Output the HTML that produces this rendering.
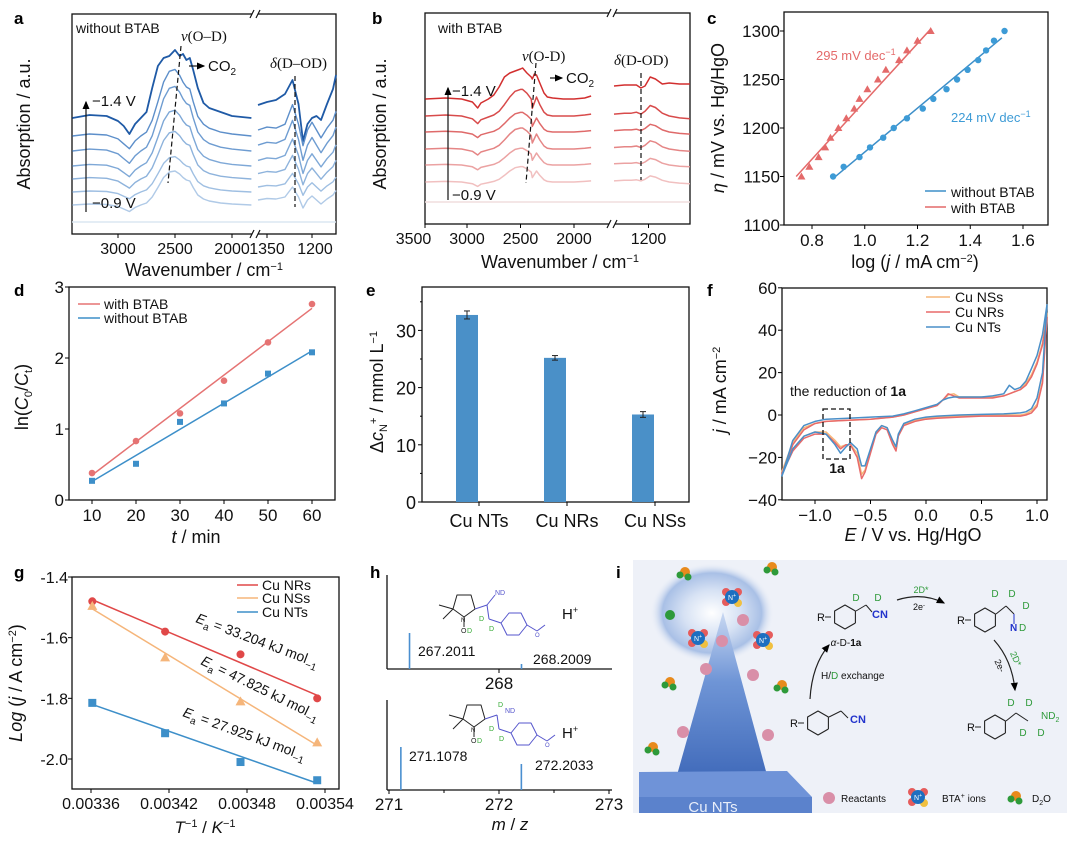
<!DOCTYPE html>
<html><head><meta charset="utf-8"><style>
html,body{margin:0;padding:0;background:#fff;}
svg{display:block;font-family:"Liberation Sans",sans-serif;}
</style></head><body>
<svg id="fig" width="1080" height="845" viewBox="0 0 1080 845" xmlns="http://www.w3.org/2000/svg">
<defs>
<radialGradient id="glow" cx="0.5" cy="0.5" r="0.5"><stop offset="0" stop-color="#ffffff"/><stop offset="0.45" stop-color="#d7e2f4"/><stop offset="0.8" stop-color="#a9c0e6"/><stop offset="1" stop-color="#eef1f8" stop-opacity="0"/></radialGradient>
<linearGradient id="cone" x1="0" y1="0" x2="0" y2="1"><stop offset="0" stop-color="#c9d8f2"/><stop offset="0.4" stop-color="#6f95d6"/><stop offset="1" stop-color="#3d67b8"/></linearGradient>
<marker id="ah" markerWidth="8" markerHeight="8" refX="6" refY="3" orient="auto"><path d="M0,0 L7,3 L0,6 z" fill="#000"/></marker>
</defs>
</svg>
<script>
// ---------- DATA ----------
const aWnL=[3400,3250,3100,3000,2950,2900,2850,2800,2750,2700,2650,2600,2550,2500,2460,2430,2400,2370,2340,2300,2250,2200,2150,2100,2000,1830];
const aTopL=[0,3,2,-3,-8,-16,-6,0,6,30,52,60,62,68,62,64,58,60,48,30,15,10,8,6,2,0];
const aLowL=[0,2,1,-3,-8,-13,-5,0,4,16,35,55,66,68,62,55,50,48,35,20,12,8,6,4,2,0];
const aWnR=[1380,1350,1320,1290,1265,1245,1230,1215,1200,1185,1170,1150,1130,1120];
const aTopR=[9,12,14,20,34,10,-27,-10,-4,-2,-6,10,25,39];
const aLowR=[2,5,4,8,28,8,-14,2,10,2,-6,4,12,21];
const aBase=[116,98,83,68,55,42,29];
const aAmp=[1.0,0.98,0.95,0.82,0.7,0.52,0.5];
const aColors=["#1f5aa6","#5d8fca","#6e9cd1","#7ea8d7","#8eb3dc","#9fbfe2","#b0cae7"];
const bWnL=[3390,3200,3050,2950,2900,2870,2800,2750,2700,2650,2600,2550,2500,2480,2440,2400,2390,2370,2350,2320,2280,2250,2200,2100,2000,1900,1840];
const bTopL=[0,1,0,-3,-9,-4,0,4,12,22,26,28,30,31,26,22,20,25,24,16,6,2,1,0,0,1,3];
const bLowL=[0,1,0,-3,-8,-4,-1,1,5,12,20,26,28,28,24,18,8,14,20,12,4,1,0,0,0,1,2];
const bWnR=[1300,1270,1250,1235,1222,1210,1195,1180,1160,1140,1110,1080];
const bTopR=[13,14,14,14,11,13,22,20,15,16,15,15];
const bLowR=[2,3,3,4,2,5,11,9,3,0,-2,-3];
const bBase=[125,108,92,75,59,42];
const bAmp=[1.0,0.95,0.7,0.75,0.6,0.55];
const bColors=["#d22f2f","#d84b4b","#df6a6a","#e58585","#eba2a2","#f1c0c0"];
const cRedX=[0.76,0.79,0.825,0.85,0.87,0.9,0.93,0.96,0.98,1.01,1.05,1.08,1.13,1.16,1.2,1.25];
const cRedY=[1150,1160,1170,1180,1190,1200,1210,1220,1230,1240,1250,1260,1270,1280,1290,1300];
const cBlueX=[0.88,0.92,0.98,1.02,1.07,1.11,1.16,1.22,1.26,1.31,1.35,1.39,1.43,1.46,1.49,1.53];
const cBlueY=[1150,1160,1170,1180,1190,1200,1210,1220,1230,1240,1250,1260,1270,1280,1290,1300];
const cRedFit=[[0.74,1150],[1.25,1302]];
const cBlueFit=[[0.88,1148],[1.52,1293]];
const cXTicks=[0.8,1.0,1.2,1.4,1.6];
const cYTicks=[1100,1150,1200,1250,1300];
const dT=[10,20,30,40,50,60];
const dWith=[0.38,0.83,1.22,1.68,2.22,2.76];
const dWithout=[0.27,0.51,1.1,1.36,1.78,2.08];
const dWithFit=[0.35,2.7];
const dWithoutFit=[0.26,2.1];
const dYTicks=[0,1,2,3];
const eCats=["Cu NTs","Cu NRs","Cu NSs"];
const eVals=[32.7,25.2,15.3];
const eErr=[0.7,0.4,0.5];
const eYTicks=[0,10,20,30];
const fEup=[-1.3,-1.2,-1.1,-1.0,-0.9,-0.7,-0.5,-0.3,-0.2,-0.1,0.0,0.1,0.15,0.2,0.25,0.3,0.4,0.5,0.6,0.7,0.75,0.8,0.85,0.9,0.95,1.0,1.05,1.09];
const fNTsUp=[-29,-12,-5,-3,-2,-1.5,-1,-0.5,0.5,2,3.5,5,7,8,8.5,8.5,8.5,8.5,9,10,14,12,13,16,22,28,38,52];
const fNRsUp=[-28,-14,-7,-4,-3,-2.5,-2,-1,0,1.5,3,4.5,7,10,9,8,8,8,8,9,10,11,12,14,18,24,33,46];
const fNSsUp=[-27,-13,-6,-4,-3,-2.5,-2,-1,0,1.5,3,4.5,7,9.5,10,8.5,8.5,8.5,8.5,9,10,11,12,15,19,25,34,48];
const fEdn=[1.09,1.05,1.0,0.95,0.9,0.85,0.7,0.5,0.3,0.1,0.0,-0.1,-0.2,-0.25,-0.27,-0.3,-0.35,-0.4,-0.45,-0.5,-0.55,-0.58,-0.62,-0.68,-0.72,-0.77,-0.82,-0.9,-1.0,-1.1,-1.2,-1.3];
const fNTsDn=[52,20,8,3,1.5,1,0.5,0.3,0,-0.5,-1,-2,-4,-9,-15,-12,-6,-5,-8,-16,-24,-24,-16,-13,-15,-18,-14,-9,-8,-10,-16,-29];
const fNRsDn=[46,15,4,1,0,-0.5,-0.5,-0.5,-1,-1.5,-2,-3,-5,-10,-17,-14,-7,-6,-9,-18,-27,-30,-20,-14,-14,-16,-13,-9,-9,-11,-17,-28];
const fNSsDn=[48,16,5,2,0.5,0,0,0,-0.5,-1,-1.5,-2.5,-4.5,-10,-16,-13,-6,-5,-8,-17,-26,-28,-18,-14,-14,-15,-12,-8,-8,-10,-16,-27];
const fXTicks=[-1.0,-0.5,0.0,0.5,1.0];
const fYTicks=[-40,-20,0,20,40,60];
const gX=[0.003361,0.003417,0.003475,0.003534];
const gNRs=[-1.48,-1.58,-1.655,-1.80];
const gNSs=[-1.495,-1.665,-1.81,-1.945];
const gNTs=[-1.815,-1.915,-2.01,-2.07];
const gNRsFit=[-1.475,-1.79];
const gNSsFit=[-1.505,-1.955];
const gNTsFit=[-1.82,-2.08];
const gXTicks=[0.00336,0.00342,0.00348,0.00354];
const gYTicks=[-1.4,-1.6,-1.8,-2.0];
const hTopMz=[267.2011,268.2009];
const hTopInt=[36,5];
const hBotMz=[271.1078,272.2033];
const hBotInt=[43,26];

// ---------- HELPERS ----------
const NS="http://www.w3.org/2000/svg";
const svg=document.getElementById('fig');
function mk(tag,attrs,parent){const e=document.createElementNS(NS,tag);for(const k in attrs)e.setAttribute(k,attrs[k]);(parent||svg).appendChild(e);return e;}
function grp(name){const g=mk('g',{});


return g;}
function line(p,x1,y1,x2,y2,c,w,dash){return mk('line',{x1:x1,y1:y1,x2:x2,y2:y2,stroke:c||'#000','stroke-width':w||1,'stroke-dasharray':dash||'none'},p);}
function txt(p,x,y,s,size,anchor,fill,extra){const t=mk('text',Object.assign({x:x,y:y,'font-size':size||14,'text-anchor':anchor||'start',fill:fill||'#111'},extra||{}),p);t.innerHTML=s;return t;}
function poly(p,pts,c,w){return mk('polyline',{points:pts.map(q=>q[0].toFixed(1)+','+q[1].toFixed(1)).join(' '),fill:'none',stroke:c,'stroke-width':w||1.3,'stroke-linejoin':'round'},p);}
function box(p,x1,y1,x2,y2){mk('rect',{x:x1,y:y1,width:x2-x1,height:y2-y1,fill:'none',stroke:'#111','stroke-width':1.3},p);}

[['a',14,24],['b',372,24],['c',707,24],['d',14,296],['e',366,296],['f',707,296],['g',14,578],['h',370,578],['i',616,578]].forEach(l=>{
 const t=txt(svg,l[1],l[2],l[0],17,'start','#000',{'font-weight':'bold'});
 
 
});

// ---------- PANEL A ----------
(function(){
 const g=grp('panel-a-without-btab');
 const L=72,R=336,T=14,B=234,BR=255;
 const xl=w=>118+(3000-w)*0.114, xr=w=>267+(1350-w)*0.3, y=v=>B-v;
 box(g,L,T,R,B);
 mk('rect',{x:BR-3,y:T-3,width:6,height:6,fill:'#fff'},g);mk('rect',{x:BR-3,y:B-3,width:6,height:6,fill:'#fff'},g);
 [[T],[B]].forEach(q=>{line(g,BR-5,q[0]+4,BR-1,q[0]-4,'#111',1.2);line(g,BR+1,q[0]+4,BR+5,q[0]-4,'#111',1.2);});
 mk('line',{x1:L,y1:222,x2:R,y2:222,stroke:'#dbe7f2','stroke-width':1.5},g);
 aBase.forEach((b,i)=>{
  const tl=i===0?aTopL:aLowL, tr=i===0?aTopR:aLowR, amp=i===0?1:aAmp[i];
  const ptsL=aWnL.map((w,k)=>[xl(w),y(b+tl[k]*amp)]);
  const ptsR=aWnR.map((w,k)=>[xr(w),y(b+4+tr[k]*amp)]);
  const p1=poly(g,ptsL,aColors[i],i===0?1.8:1.4);
  
  
  const p2=poly(g,ptsR,aColors[i],i===0?1.8:1.4);
  
  
 });
 [3000,2500,2000].forEach(w=>{line(g,xl(w),B,xl(w),B+4);txt(g,xl(w),B+20,w,16,'middle');});
 [1350,1200].forEach(w=>{line(g,xr(w),B,xr(w),B+4);});
 txt(g,xr(1350),B+20,'1350',16,'middle');txt(g,xr(1200)+3,B+20,'1200',16,'middle');
 txt(g,204,B+42,'Wavenumber / cm<tspan dy="-6" font-size="11">−1</tspan>',18,'middle');
 txt(g,0,0,'Absorption / a.u.',18,'middle','#111',{transform:'translate(30,124) rotate(-90)'});
 txt(g,76,33,'without  BTAB',14);
 txt(g,181,41,'<tspan font-style="italic" font-family="Liberation Serif">ν</tspan><tspan font-family="Liberation Serif">(O–D)</tspan>',15);
 line(g,181,46,168,183,'#111',1.2,'5,3');
 line(g,189,66,204,66,'#111',1.2).setAttribute('marker-end','url(#ah)');
 txt(g,208,71,'CO<tspan dy="4" font-size="10">2</tspan>',15);
 txt(g,270,68,'<tspan font-style="italic">δ</tspan>(D–OD)',15,'start','#111',{'font-family':'Liberation Serif'});
 line(g,295,76,295,207,'#111',1.2,'5,3');
 line(g,86,212,86,102,'#111',1.2).setAttribute('marker-end','url(#ah)');
 txt(g,92,106,'−1.4 V',15);txt(g,92,208,'−0.9 V',15);
})();

// ---------- PANEL B ----------
(function(){
 const g=grp('panel-b-with-btab');
 const L=425,R=690,T=13,B=224,BR=612;
 const xl=w=>467+(3000-w)*0.107, xr=w=>614+(1300-w)*0.345, y=v=>B-v;
 box(g,L,T,R,B);
 mk('rect',{x:BR-3,y:T-3,width:6,height:6,fill:'#fff'},g);mk('rect',{x:BR-3,y:B-3,width:6,height:6,fill:'#fff'},g);
 [[T],[B]].forEach(q=>{line(g,BR-5,q[0]+4,BR-1,q[0]-4,'#111',1.2);line(g,BR+1,q[0]+4,BR+5,q[0]-4,'#111',1.2);});
 mk('line',{x1:L,y1:202,x2:R,y2:202,stroke:'#f0dede','stroke-width':1.5},g);
 bBase.forEach((b,i)=>{
  const tl=i===0?bTopL:bLowL, tr=i===0?bTopR:bLowR, amp=i===0?1:bAmp[i];
  const p1=poly(g,bWnL.map((w,k)=>[xl(w),y(b+tl[k]*amp)]),bColors[i],1.5);
  
  
  const p2=poly(g,bWnR.map((w,k)=>[xr(w),y(b+tr[k]*amp)]),bColors[i],1.5);
  
  
 });
 [3500,3000,2500,2000].forEach(w=>{line(g,Math.max(L,xl(w)),B,Math.max(L,xl(w)),B+4);txt(g,xl(w),B+20,w,16,'middle');});
 line(g,xr(1200),B,xr(1200),B+4);txt(g,xr(1200),B+20,'1200',16,'middle');
 txt(g,560,B+44,'Wavenumber / cm<tspan dy="-6" font-size="11">−1</tspan>',18,'middle');
 txt(g,0,0,'Absorption / a.u.',18,'middle','#111',{transform:'translate(386,124) rotate(-90)'});
 txt(g,438,33,'with BTAB',14);
 txt(g,522,61,'<tspan font-style="italic">ν</tspan>(O-D)',15,'start','#111',{'font-family':'Liberation Serif'});
 line(g,536,63,526,183,'#111',1.2,'5,3');
 line(g,550,78,562,78,'#111',1.2).setAttribute('marker-end','url(#ah)');
 txt(g,566,83,'CO<tspan dy="4" font-size="10">2</tspan>',15);
 txt(g,614,65,'<tspan font-style="italic">δ</tspan>(D-OD)',15,'start','#111',{'font-family':'Liberation Serif'});
 line(g,641,73,641,180,'#111',1.2,'5,3');
 line(g,448,200,448,88,'#111',1.2).setAttribute('marker-end','url(#ah)');
 txt(g,452,96,'−1.4 V',15);txt(g,452,200,'−0.9 V',15);
})();

// ---------- PANEL C ----------
(function(){
 const g=grp('panel-c-tafel');
 const L=784,R=1048,T=12,B=225;
 const x=v=>812+(v-0.8)*263.75, y=v=>B-(v-1100)*0.97;
 box(g,L,T,R,B);
 cXTicks.forEach(v=>{line(g,x(v),B,x(v),B+4);txt(g,x(v),B+21,v.toFixed(1),17,'middle');});
 cYTicks.forEach(v=>{line(g,L,y(v),L-4,y(v));txt(g,L-4,y(v)+6,v,17,'end');});
 const fr=line(g,x(cRedFit[0][0]),y(cRedFit[0][1]),x(cRedFit[1][0]),y(cRedFit[1][1]),'#e46a6a',1.5);
 
 
 const fb=line(g,x(cBlueFit[0][0]),y(cBlueFit[0][1]),x(cBlueFit[1][0]),y(cBlueFit[1][1]),'#3d8fc9',1.5);
 
 
 cRedX.forEach((v,i)=>{const px=x(v),py=y(cRedY[i]);const m=mk('polygon',{points:`${px},${py-4} ${px-4},${py+3} ${px+4},${py+3}`,fill:'#e46a6a'},g);
  
  });
 cBlueX.forEach((v,i)=>{const m=mk('circle',{cx:x(v),cy:y(cBlueY[i]),r:3.2,fill:'#3d9bd6'},g);
  
  });
 txt(g,816,60,'295 mV dec<tspan dy="-5" font-size="9">−1</tspan>',13,'start','#e46a6a');
 txt(g,951,122,'224 mV dec<tspan dy="-5" font-size="9">−1</tspan>',13,'start','#3d9bd6');
 line(g,925,191,946,191,'#3d8fc9',1.5);txt(g,951,197,'without BTAB',14);
 line(g,925,207,946,207,'#e46a6a',1.5);txt(g,951,213,'with BTAB',14);
 txt(g,915,268,'log (<tspan font-style="italic">j</tspan> / mA cm<tspan dy="-6" font-size="11">−2</tspan><tspan dy="6">)</tspan>',18,'middle');
 txt(g,0,0,'<tspan font-style="italic">η</tspan> / mV vs. Hg/HgO',18,'middle','#111',{transform:'translate(724,118) rotate(-90)'});
})();

// ---------- PANEL D ----------
(function(){
 const g=grp('panel-d-kinetics');
 const L=69,R=335,T=287,B=500;
 const x=v=>92+(v-10)*4.4, y=v=>B-v*71;
 box(g,L,T,R,B);
 dT.forEach(v=>{line(g,x(v),B,x(v),B+4);txt(g,x(v),B+21,v,17,'middle');});
 dYTicks.forEach(v=>{line(g,L,y(v),L-4,y(v));txt(g,L-5,y(v)+6,v,17,'end');});
 line(g,x(10),y(dWithFit[0]),x(60),y(dWithFit[1]),'#e57373',1.5);
 line(g,x(10),y(dWithoutFit[0]),x(60),y(dWithoutFit[1]),'#3d8fc9',1.5);
 dT.forEach((t,i)=>{
  const c=mk('circle',{cx:x(t),cy:y(dWith[i]),r:3.3,fill:'#e57373'},g);
  
  
  const s=mk('rect',{x:x(t)-3,y:y(dWithout[i])-3,width:6,height:6,fill:'#3d8fc9'},g);
  
  
 });
 line(g,78,304,100,304,'#e57373',1.5);txt(g,104,309,'with BTAB',14);
 line(g,78,318,100,318,'#3d8fc9',1.5);txt(g,104,323,'without BTAB',14);
 txt(g,196,543,'<tspan font-style="italic">t</tspan> / min',18,'middle');
 txt(g,0,0,'ln(<tspan font-style="italic">C</tspan><tspan dy="4" font-size="11">0</tspan><tspan dy="-4">/</tspan><tspan font-style="italic">C</tspan><tspan dy="4" font-size="11">t</tspan><tspan dy="-4">)</tspan>',18,'middle','#111',{transform:'translate(28,397) rotate(-90)'});
})();

// ---------- PANEL E ----------
(function(){
 const g=grp('panel-e-bars');
 const L=422,R=689,T=287,B=502;
 const xs=[467,555,643], y=v=>B-v*5.72;
 box(g,L,T,R,B);
 eYTicks.forEach(v=>{line(g,L,y(v),L-4,y(v));txt(g,L-6,y(v)+7,v,18,'end');});
 [5,15,25,35].forEach(v=>line(g,L,y(v),L-2,y(v)));
 eCats.forEach((c,i)=>{
  const b=mk('rect',{x:xs[i]-11,y:y(eVals[i]),width:22,height:B-y(eVals[i]),fill:'#4a90c8'},g);
  
  
  line(g,xs[i],y(eVals[i]+eErr[i]),xs[i],y(eVals[i]-eErr[i]),'#222',1);
  line(g,xs[i]-3,y(eVals[i]+eErr[i]),xs[i]+3,y(eVals[i]+eErr[i]),'#222',1);
  line(g,xs[i]-3,y(eVals[i]-eErr[i]),xs[i]+3,y(eVals[i]-eErr[i]),'#222',1);
  line(g,xs[i]+12,B,xs[i]+12,B+4);
  txt(g,xs[i]+12,B+25,c,18,'middle');
 });
 txt(g,0,0,'Δ<tspan font-style="italic">c</tspan><tspan dy="4" font-size="11">N</tspan><tspan dy="-10" font-size="11">+</tspan><tspan dy="6"> / mmol L</tspan><tspan dy="-6" font-size="11">−1</tspan>',18,'middle','#111',{transform:'translate(383,392) rotate(-90)'});
})();

// ---------- PANEL F ----------
(function(){
 const g=grp('panel-f-cv');
 const L=782,R=1047,T=288,B=500;
 const x=v=>815+(v+1)*111, y=v=>415-v*2.12;
 box(g,L,T,R,B);
 fXTicks.forEach(v=>{line(g,x(v),B,x(v),B+4);txt(g,x(v),B+21,(v<0?'−':'')+Math.abs(v).toFixed(1),17,'middle');});
 fYTicks.forEach(v=>{line(g,L,y(v),L-4,y(v));txt(g,L-5,y(v)+6,(v<0?'−':'')+Math.abs(v),17,'end');});
 const series=[[fNSsUp,fNSsDn,'#f6b77a','cv-cu-nss'],[fNRsUp,fNRsDn,'#e86a6a','cv-cu-nrs'],[fNTsUp,fNTsDn,'#4a8fc8','cv-cu-nts']];
 series.forEach(s=>{
  const pts=fEup.map((e,k)=>[x(e),y(s[0][k])]).concat(fEdn.map((e,k)=>[x(e),y(s[1][k])]));
  const p=poly(g,pts,s[2],1.5);
  
  
 });
 mk('rect',{x:823,y:409,width:27,height:50,fill:'none',stroke:'#111','stroke-width':1.3,'stroke-dasharray':'5,3'},g);
 txt(g,790,396,'the reduction of <tspan font-weight="bold">1a</tspan>',14);
 txt(g,837,473,'1a',14,'middle','#111',{'font-weight':'bold'});
 line(g,926,297,950,297,'#f6b77a',1.5);txt(g,955,302,'Cu NSs',14);
 line(g,926,312,950,312,'#e86a6a',1.5);txt(g,955,317,'Cu NRs',14);
 line(g,926,327,950,327,'#4a8fc8',1.5);txt(g,955,332,'Cu NTs',14);
 txt(g,913,541,'<tspan font-style="italic">E</tspan> / V vs. Hg/HgO',18,'middle');
 txt(g,0,0,'<tspan font-style="italic">j</tspan> / mA cm<tspan dy="-6" font-size="11">−2</tspan>',18,'middle','#111',{transform:'translate(726,390) rotate(-90)'});
})();

// ---------- PANEL G ----------
(function(){
 const g=grp('panel-g-arrhenius');
 const L=72,R=339,T=577,B=789;
 const x=v=>91+(v-0.00336)/0.00018*234, y=v=>577+(-1.4-v)/0.6*182;
 box(g,L,T,R,B);
 gXTicks.forEach(v=>{line(g,x(v),B,x(v),B+4);txt(g,x(v),B+20,v.toFixed(5),16,'middle');});
 gYTicks.forEach(v=>{line(g,L,y(v),L-4,y(v));txt(g,L-4,y(v)+6,v.toFixed(1),16,'end');});
 const S=[[gNRs,gNRsFit,'#e04848','c'],[gNSs,gNSsFit,'#f5b57a','t'],[gNTs,gNTsFit,'#3d8fc9','s']];
 S.forEach(s=>{
  line(g,x(gX[0]),y(s[1][0]),x(gX[3]),y(s[1][1]),s[2],1.5);
  gX.forEach((xv,i)=>{
   const px=x(xv),py=y(s[0][i]);let m;
   if(s[3]==='c')m=mk('circle',{cx:px,cy:py,r:4,fill:s[2]},g);
   else if(s[3]==='t')m=mk('polygon',{points:`${px},${py-5} ${px-5},${py+4} ${px+5},${py+4}`,fill:s[2]},g);
   else m=mk('rect',{x:px-4,y:py-4,width:8,height:8,fill:s[2]},g);
   
   
  });
 });
 line(g,237,585,258,585,'#e04848',1.5);txt(g,262,590,'Cu NRs',14);
 line(g,237,598,258,598,'#f5b57a',1.5);txt(g,262,603,'Cu NSs',14);
 line(g,237,612,258,612,'#3d8fc9',1.5);txt(g,262,617,'Cu NTs',14);
 txt(g,0,0,'<tspan font-style="italic">E</tspan><tspan dy="4" font-size="10">a</tspan><tspan dy="-4"> = 33.204 kJ mol</tspan><tspan dy="4" font-size="10">−1</tspan>',14,'start','#111',{transform:'translate(195,622) rotate(20.5)'});
 txt(g,0,0,'<tspan font-style="italic">E</tspan><tspan dy="4" font-size="10">a</tspan><tspan dy="-4"> = 47.825 kJ mol</tspan><tspan dy="4" font-size="10">−1</tspan>',14,'start','#111',{transform:'translate(200,664) rotate(26)'});
 txt(g,0,0,'<tspan font-style="italic">E</tspan><tspan dy="4" font-size="10">a</tspan><tspan dy="-4"> = 27.925 kJ mol</tspan><tspan dy="4" font-size="10">−1</tspan>',14,'start','#111',{transform:'translate(182,716) rotate(20)'});
 txt(g,205,833,'<tspan font-style="italic">T</tspan><tspan dy="-6" font-size="11">−1</tspan><tspan dy="6"> / </tspan><tspan font-style="italic">K</tspan><tspan dy="-6" font-size="11">−1</tspan>',17,'middle');
 txt(g,0,0,'<tspan font-style="italic">Log</tspan> (<tspan font-style="italic">j</tspan> / A cm<tspan dy="-6" font-size="11">−2</tspan><tspan dy="6">)</tspan>',18,'middle','#111',{transform:'translate(22,683) rotate(-90)'});
})();

// ---------- PANEL H ----------
(function(){
 const g=grp('panel-h-mass-spec');
 const L=387,R=612;
 const xt=m=>499+(m-268)*112, xb=m=>389+(m-271)*110;
 const Bt=669,Bb=790;
 line(g,L,575,L,Bt,'#111',1.3);line(g,L,Bt,R,Bt,'#111',1.3);
 line(g,L,700,L,Bb,'#111',1.3);line(g,L,Bb,R,Bb,'#111',1.3);
 line(g,xt(268),Bt,xt(268),Bt+4);txt(g,xt(268),Bt+20,'268',17,'middle');
 [271,272,273].forEach(m=>{line(g,xb(m),Bb,xb(m),Bb+4);txt(g,xb(m),Bb+20,m,17,'middle');});
 [271.5,272.5].forEach(m=>line(g,xb(m),Bb,xb(m),Bb+3));
 hTopMz.forEach((m,i)=>{const p=line(g,xt(m),Bt,xt(m),Bt-hTopInt[i],'#4a8fd0',1.6);
  
  });
 hBotMz.forEach((m,i)=>{const p=line(g,xb(m),Bb,xb(m),Bb-hBotInt[i],'#4a8fd0',1.6);
  
  });
 txt(g,418,656,hTopMz[0].toFixed(4),14);txt(g,533,664,hTopMz[1].toFixed(4),14);
 txt(g,409,761,hBotMz[0].toFixed(4),14);txt(g,535,770,hBotMz[1].toFixed(4),14);
 txt(g,510,830,'<tspan font-style="italic">m</tspan> / <tspan font-style="italic">z</tspan>',17,'middle');
 txt(g,562,619,'H<tspan dy="-6" font-size="9">+</tspan>',15);txt(g,562,738,'H<tspan dy="-6" font-size="9">+</tspan>',15);
 function mol(ox,oy,bottom){
  const m=mk('g',{transform:`translate(${ox},${oy})`},g);
  
  
  poly(m,[[-12,8],[-8,-6],[6,-6],[10,8],[-1,16],[-12,8]],'#222',1);
  line(m,-12,8,-26,4,'#222',1);line(m,-12,8,-22,18,'#222',1);
  line(m,-1,16,-1,26,'#222',1);
  txt(m,-4,21,'N',6,'start','#222');txt(m,-4,32,'O',7,'start','#222');txt(m,2,32,'D',7,'start','#3a3');
  line(m,10,8,22,4,'#55c',1);
  if(!bottom){line(m,22,4,30,-6,'#55c',1);txt(m,30,-6,'ND',7,'start','#55c');}
  else{txt(m,23,-4,'D',7,'start','#3a3');txt(m,30,2,'ND',7,'start','#55c');}
  line(m,22,4,24,18,'#55c',1);txt(m,14,20,'D',7,'start','#3a3');txt(m,24,30,'D',7,'start','#3a3');
  line(m,24,18,36,22,'#55c',1);
  const hx=[[36,22],[44,12],[56,12],[62,24],[54,34],[42,34],[36,22]];
  poly(m,hx,'#55c',1);line(m,62,24,72,30,'#55c',1);line(m,72,30,80,24,'#55c',1);
  txt(m,70,36,'O',6,'start','#55c');
 }
 mol(465,601,false);mol(475,711,true);
})();

// ---------- PANEL I ----------
(function(){
 const g=grp('panel-i-schematic');
 mk('rect',{x:633,y:560,width:434,height:253,fill:'#eef1f8'},g);
 mk('ellipse',{cx:712,cy:613,rx:62,ry:50,fill:'url(#glow)'},g);
 const cone=mk('path',{d:'M723,612 L677,775 A45,10 0 0 0 767,775 Z',fill:'url(#cone)'},g);
 
 
 mk('polygon',{points:'639,772 787,771 812,797 639,797',fill:'#6f93d8'},g);
 const slab=mk('rect',{x:639,y:797,width:173,height:16,fill:'#5b82cc'},g);
 
 
 txt(g,713,812,'Cu NTs',15,'middle','#e8eefa');
 function d2o(x,y){mk('circle',{cx:x,cy:y,r:5,fill:'#e88a1c'},g);mk('circle',{cx:x-5,cy:y+3,r:3.5,fill:'#2e9a3a'},g);mk('circle',{cx:x+3,cy:y+5,r:3.5,fill:'#2e9a3a'},g);}
 function bta(x,y){[[-6,-5],[6,-5],[-6,5]].forEach(o=>mk('circle',{cx:x+o[0],cy:y+o[1],r:4,fill:'#e55c5c'},g));mk('circle',{cx:x+6,cy:y+6,r:4,fill:'#f0c040'},g);mk('circle',{cx:x,cy:y,r:7,fill:'#1d6fc0'},g);txt(g,x,y+3,'N<tspan font-size="5" dy="-3">+</tspan>',7,'middle','#fff');}
 function rea(x,y){mk('circle',{cx:x,cy:y,r:6,fill:'#d98fa8'},g);}
 [[685,572],[772,567],[670,682],[782,685],[653,747]].forEach(p=>d2o(p[0],p[1]));
 mk('circle',{cx:670,cy:615,r:5,fill:'#2e9a3a'},g);
 [[743,620],[722,641],[706,669],[753,675],[683,732],[768,735]].forEach(p=>rea(p[0],p[1]));
 [[732,597],[698,638],[763,640]].forEach(p=>bta(p[0],p[1]));
 function hex(cx,cy,r){const pts=[];for(let k=0;k<=6;k++){const a=Math.PI/6+k*Math.PI/3;pts.push([cx+r*Math.cos(a),cy+r*Math.sin(a)]);}poly(g,pts,'#222',1.1);line(g,cx-r-2,cy,cx-r-8,cy,'#222',1);}
 hex(818,723,12);txt(g,798,727,'R',11,'end');line(g,829,717,841,711,'#222',1);line(g,841,711,848,718,'#222',1);txt(g,850,723,'CN',11,'start','#2233cc',{'font-weight':'bold'});
 hex(845,617,12);txt(g,825,621,'R',11,'end');line(g,856,611,866,605,'#222',1);line(g,866,605,872,612,'#222',1);
 txt(g,856,601,'D',10,'middle','#2e9a3a');txt(g,878,601,'D',10,'middle','#2e9a3a');txt(g,872,618,'CN',11,'start','#2233cc',{'font-weight':'bold'});
 txt(g,846,646,'<tspan font-style="italic">α</tspan>-D-<tspan font-weight="bold">1a</tspan>',10,'middle');
 hex(985,620,12);txt(g,965,624,'R',11,'end');line(g,996,614,1006,606,'#222',1);line(g,1006,606,1014,614,'#222',1);line(g,1014,614,1014,624,'#2233cc',1);
 txt(g,995,597,'D',10,'middle','#2e9a3a');txt(g,1012,597,'D',10,'middle','#2e9a3a');txt(g,1026,609,'D',10,'middle','#2e9a3a');
 txt(g,1010,631,'N',10,'start','#2233cc',{'font-weight':'bold'});txt(g,1019,631,'D',10,'start','#2e9a3a');
 hex(995,727,12);txt(g,975,731,'R',11,'end');line(g,1006,721,1016,713,'#222',1);line(g,1016,713,1028,721,'#222',1);
 txt(g,1011,706,'D',10,'middle','#2e9a3a');txt(g,1029,706,'D',10,'middle','#2e9a3a');txt(g,1041,719,'ND<tspan dy="3" font-size="7">2</tspan>',10,'start','#2e9a3a');
 txt(g,1023,736,'D',10,'middle','#2e9a3a');txt(g,1041,736,'D',10,'middle','#2e9a3a');
 mk('path',{d:'M810,699 Q812,665 829,645',fill:'none',stroke:'#222','stroke-width':1.2,'marker-end':'url(#ah)'},g);
 txt(g,821,679,'H/<tspan fill="#2e9a3a">D</tspan> exchange',10);
 mk('path',{d:'M897,600 Q922,592 944,603',fill:'none',stroke:'#222','stroke-width':1.2,'marker-end':'url(#ah)'},g);
 txt(g,921,593,'2D*',9,'middle','#2e9a3a');txt(g,919,610,'2e<tspan dy="-3" font-size="6">-</tspan>',9,'middle');
 mk('path',{d:'M994,640 Q1012,660 1015,690',fill:'none',stroke:'#222','stroke-width':1.2,'marker-end':'url(#ah)'},g);
 txt(g,0,0,'2D*',9,'middle','#2e9a3a',{transform:'translate(1013,660) rotate(65)'});
 txt(g,0,0,'2e-',9,'middle','#111',{transform:'translate(997,667) rotate(65)'});
 rea(829,798);txt(g,841,802,'Reactants',10);
 bta(918,797);txt(g,942,802,'BTA<tspan dy="-4" font-size="7">+</tspan><tspan dy="4"> ions</tspan>',10);
 d2o(1016,796);txt(g,1032,802,'D<tspan dy="3" font-size="7">2</tspan><tspan dy="-3">O</tspan>',10);
})();
</script>
</body></html>
